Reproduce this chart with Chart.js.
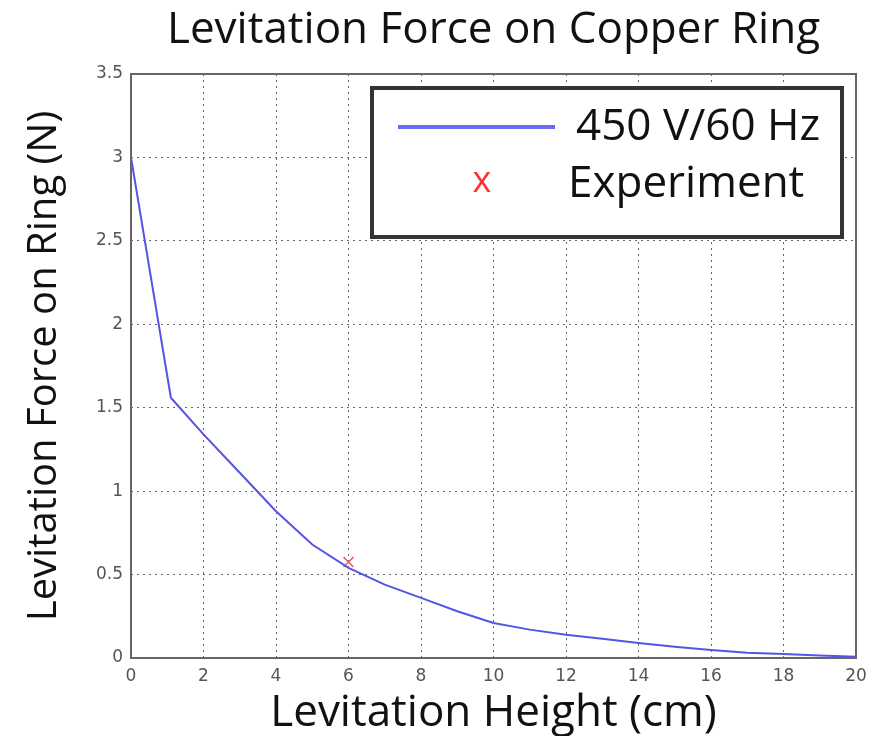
<!DOCTYPE html>
<html>
<head>
<meta charset="utf-8">
<script src="https://cdn.jsdelivr.net/npm/chart.js@4.4.0/dist/chart.umd.min.js"></script>
<style>
    html, body { margin: 0; padding: 0; background: #fff; }
</style>
</head>
<body>
<canvas id="forceChart" width="883" height="736"></canvas>
<script>
// Simulated curve: levitation height (cm) vs force (N)
const heights = [0, 1.1, 2, 3, 4, 5, 6, 7, 8, 9, 10, 11, 12, 13, 14, 15, 16, 17, 18, 19, 20];
const forces = [3.0, 1.56, 1.34, 1.11, 0.88, 0.68, 0.54, 0.44, 0.36, 0.28, 0.21, 0.17, 0.14, 0.115, 0.09, 0.068, 0.048, 0.032, 0.024, 0.015, 0.008];

// Measured point
const expHeights = [6];
const expForces = [0.575];

const xTickValues = [0, 2, 4, 6, 8, 10, 12, 14, 16, 18, 20];
const yTickValues = [0, 0.5, 1, 1.5, 2, 2.5, 3, 3.5];
const seriesNames = ['450 V/60 Hz', 'Experiment'];

const textFont = '"Open Sans", Lato, sans-serif';
const tickFont = { family: '"DejaVu Sans", sans-serif', size: 17 };

// frame round the plot and the legend box inside it
const frameAndLegend = {
    id: 'frameAndLegend',
    afterDatasetsDraw(chart) {
        const ctx = chart.ctx;
        const area = chart.chartArea;
        ctx.save();
        ctx.strokeStyle = '#666';
        ctx.lineWidth = 2;
        ctx.strokeRect(area.left, area.top, area.right - area.left, area.bottom - area.top);

        const boxW = 470, boxH = 149;
        const bx = area.right - 14 - boxW;
        const by = area.top + 14;
        ctx.fillStyle = '#fff';
        ctx.fillRect(bx, by, boxW, boxH);
        ctx.strokeStyle = '#333';
        ctx.lineWidth = 4;
        ctx.strokeRect(bx, by, boxW, boxH);

        const line = chart.data.datasets[0];
        const exp = chart.data.datasets[1];

        ctx.strokeStyle = '#6a6af5';
        ctx.lineWidth = 4;
        ctx.beginPath();
        ctx.moveTo(bx + 26, by + 39);
        ctx.lineTo(bx + 183, by + 39);
        ctx.stroke();

        ctx.fillStyle = '#111';
        ctx.font = '44px ' + textFont;
        ctx.textBaseline = 'middle';
        ctx.textAlign = 'left';
        ctx.fillText(line.label, bx + 204, by + 39);
        ctx.fillText(exp.label, bx + 196, by + 96);

        ctx.fillStyle = '#ff3030';
        ctx.font = '36px ' + textFont;
        ctx.textAlign = 'center';
        ctx.fillText('x', bx + 110, by + 94);
        ctx.restore();
    }
};

new Chart(document.getElementById('forceChart'), {
    type: 'scatter',
    data: {
        datasets: [{
            label: seriesNames[0],
            data: heights.map((h, i) => ({ x: h, y: forces[i] })),
            showLine: true,
            borderColor: '#5454e6',
            borderWidth: 2,
            pointRadius: 0,
            tension: 0
        }, {
            label: seriesNames[1],
            data: expHeights.map((h, i) => ({ x: h, y: expForces[i] })),
            showLine: false,
            pointStyle: 'crossRot',
            pointRadius: 7,
            borderColor: '#e86060',
            borderWidth: 1.5
        }]
    },
    options: {
        responsive: false,
        animation: false,
        devicePixelRatio: 1,
        layout: { padding: { left: 0, right: 27, top: 0, bottom: 0 } },
        plugins: {
            legend: { display: false },
            tooltip: { enabled: false },
            title: {
                display: true,
                fullSize: false,
                text: 'Levitation Force on Copper Ring',
                color: '#111',
                font: { family: textFont, size: 44, weight: 'normal', lineHeight: 1.2 },
                padding: { top: 4, bottom: 17.2 }
            }
        },
        scales: {
            x: {
                type: 'linear',
                min: 0,
                max: 20,
                afterFit: s => { s.height = 78; },
                afterBuildTicks: s => { s.ticks = xTickValues.map(v => ({ value: v })); },
                ticks: { color: '#555', font: tickFont, padding: 8, maxRotation: 0, callback: v => String(v) },
                grid: { color: '#666', drawTicks: false, lineWidth: 1 },
                border: { display: false, dash: [2, 4] },
                title: {
                    display: true,
                    text: 'Levitation Height (cm)',
                    color: '#111',
                    font: { family: textFont, size: 44, lineHeight: 1 },
                    padding: { top: 0, bottom: 1 }
                }
            },
            y: {
                type: 'linear',
                min: 0,
                max: 3.5,
                afterFit: s => { s.width = 131; },
                afterBuildTicks: s => { s.ticks = yTickValues.map(v => ({ value: v })); },
                ticks: { color: '#555', font: tickFont, padding: 8, callback: v => String(v) },
                grid: { color: '#666', drawTicks: false, lineWidth: 1 },
                border: { display: false, dash: [2, 4] },
                title: {
                    display: true,
                    text: 'Levitation Force on Ring (N)',
                    color: '#111',
                    font: { family: textFont, size: 40, lineHeight: 1.2 },
                    padding: { top: 21, bottom: 0 }
                }
            }
        }
    },
    plugins: [frameAndLegend]
});
</script>
</body>
</html>
